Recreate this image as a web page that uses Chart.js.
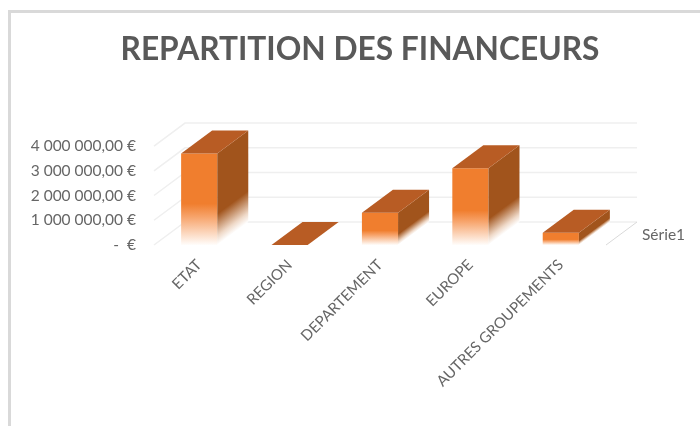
<!DOCTYPE html>
<html><head><meta charset="utf-8">
<style>html,body{margin:0;padding:0;background:#fff}#w{position:absolute;left:0;top:0;width:700px;height:426px}</style>
<script src="https://cdn.jsdelivr.net/npm/chart.js@4"></script></head>
<body><div id="w"><canvas id="c" width="700" height="426"></canvas></div>
<script>
const categories = ['ETAT','REGION','DEPARTEMENT','EUROPE','AUTRES GROUPEMENTS'];
const values = [3700000, 0, 1300000, 3100000, 500000];
const seriesName = 'Série1';
const titleText = 'REPARTITION DES FINANCEURS';
const DX = 31, DY = -23;
const FRONT = '#f07e2e', SIDE = '#a1541c', TOP = '#b85c24', GRID = '#efefef', TXT = '#595959', AXISTXT = '#666666';
const FONT = 'Lato, Carlito, sans-serif';

function fmt(v){
  if(v===0) return '-  €';
  return String(v).replace(/\B(?=(\d{3})+$)/g,' ')+',00 €';
}
function fadeFront(ctx,top,bottom){
  const g=ctx.createLinearGradient(0,top,0,bottom);
  const s=0.55;
  g.addColorStop(0,FRONT);g.addColorStop(s,FRONT);
  g.addColorStop(s+0.14,'#f7a36a');
  g.addColorStop(1,'#fffdfb');
  return g;
}
const cube3d={
  id:'cube3d',
  beforeDraw(chart){
    const c=chart.ctx,{width,height}=chart;
    c.save();c.strokeStyle='#d9d9d9';c.lineWidth=3;
    c.beginPath();c.moveTo(9.5,height);c.lineTo(9.5,11.5);c.lineTo(width,11.5);c.stroke();
    c.restore();
  },
  beforeDatasetsDraw(chart){
    const c=chart.ctx,x=chart.scales.x,y=chart.scales.y;
    c.save();c.strokeStyle=GRID;c.lineWidth=1.5;
    y.ticks.forEach(t=>{
      const py=y.getPixelForValue(t.value);
      c.beginPath();c.moveTo(x.left,py);c.lineTo(x.left+DX,py+DY);c.lineTo(x.right+DX,py+DY);c.stroke();
    });
    c.restore();
    const y0=y.getPixelForValue(0);
    c.save();c.strokeStyle='#d9d9d9';c.lineWidth=1;
    c.beginPath();c.moveTo(x.right,y0);c.lineTo(x.right+DX,y0+DY);c.stroke();
    c.fillStyle=AXISTXT;c.font='15.5px '+FONT;c.textAlign='left';c.textBaseline='middle';
    c.fillText(chart.data.datasets[0].label,x.right+36,y0-10);
    c.restore();
  },
  afterDatasetsDraw(chart){
    const c=chart.ctx,meta=chart.getDatasetMeta(0),y=chart.scales.y,y0=y.getPixelForValue(0);
    meta.data.forEach(b=>{
      const p=b.getProps(['x','y','width'],true),l=p.x-p.width/2,r=p.x+p.width/2,t=p.y,h=y0-t;
      c.save();
      if(h>0.5){
        const L=Math.hypot(DX,DY),nx=-DY/L,ny=DX/L,d=h*DX/L;
        const g=c.createLinearGradient(r,y0,r-nx*d,y0-ny*d);
        g.addColorStop(0,'#ffffff');g.addColorStop(0.1,'#efd9c8');g.addColorStop(0.34,SIDE);g.addColorStop(1,SIDE);
        c.fillStyle=g;
        c.beginPath();c.moveTo(r,t);c.lineTo(r+DX,t+DY);c.lineTo(r+DX,y0+DY);c.lineTo(r,y0);c.closePath();c.fill();
      }
      c.fillStyle=TOP;
      c.beginPath();c.moveTo(l,t);c.lineTo(r,t);c.lineTo(r+DX,t+DY);c.lineTo(l+DX,t+DY);c.closePath();c.fill();
      c.restore();
    });
  }
};
new Chart(document.getElementById('c'),{
  type:'bar',
  plugins:[cube3d],
  data:{labels:categories,datasets:[{label:seriesName,data:values,borderWidth:0,
    barPercentage:0.4,categoryPercentage:1,
    backgroundColor(ctx){
      const s=ctx.chart.scales.y;
      if(!s||!ctx.parsed) return FRONT;
      const a=s.getPixelForValue(ctx.parsed.y),b=s.getPixelForValue(0);
      if(!Number.isFinite(a)||!Number.isFinite(b)) return FRONT;
      return fadeFront(ctx.chart.ctx,a,b);
    }}]},
  options:{
    responsive:false,animation:false,
    layout:{padding:{left:20,right:0,top:0,bottom:0}},
    plugins:{
      legend:{display:false},tooltip:{enabled:false},
      title:{display:true,text:titleText,color:TXT,font:{family:FONT,size:31.7,weight:'bold'},padding:{top:31,bottom:77}}
    },
    scales:{
      x:{grid:{display:false},border:{display:false},afterFit(s){s.height=181;},
        ticks:{color:AXISTXT,font:{family:FONT,size:15},maxRotation:45,minRotation:45,padding:3,autoSkip:false}},
      y:{min:0,max:4000000,grid:{display:false},border:{display:false},afterFit(s){s.width=134;},
        ticks:{stepSize:1000000,color:AXISTXT,font:{family:FONT,size:15.5},padding:10,callback:fmt}},
      spare:{position:'right',display:true,grid:{display:false},border:{display:false},
        ticks:{display:false},afterFit(s){s.width=94;}}
    }
  }
});
</script></body></html>
